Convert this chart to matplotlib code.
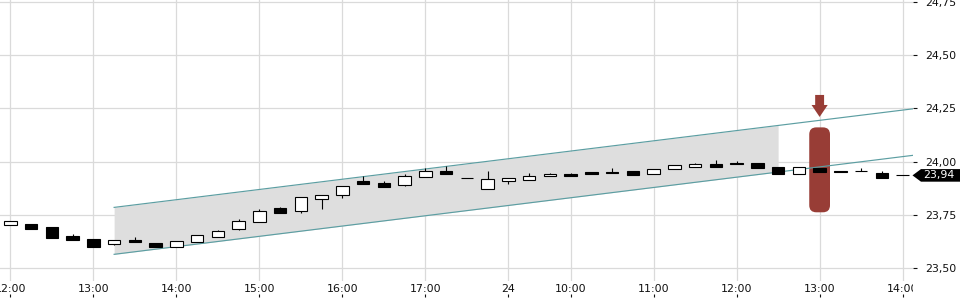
import numpy as np
import matplotlib
matplotlib.use("Agg")
import matplotlib.pyplot as plt
from matplotlib.patches import FancyBboxPatch, FancyArrow, Polygon, Rectangle
from matplotlib.ticker import FuncFormatter

# 15-minute candles, one per slot (overnight gap collapsed)
opens = [23.702, 23.708, 23.692, 23.652, 23.636, 23.613, 23.633, 23.619, 23.601, 23.625,
         23.648, 23.686, 23.719, 23.782, 23.767, 23.827, 23.842, 23.910, 23.900, 23.892,
         23.927, 23.956, 23.922, 23.873, 23.908, 23.913, 23.932, 23.942, 23.952, 23.952,
         23.956, 23.944, 23.967, 23.977, 23.989, 23.995, 23.994, 23.974, 23.944, 23.970,
         23.958, 23.956, 23.946, 23.936]
highs = [23.721, 23.708, 23.692, 23.660, 23.636, 23.632, 23.647, 23.619, 23.627, 23.655,
         23.680, 23.731, 23.778, 23.789, 23.833, 23.842, 23.885, 23.933, 23.910, 23.942,
         23.969, 23.981, 23.922, 23.956, 23.924, 23.946, 23.947, 23.948, 23.952, 23.970,
         23.956, 23.966, 23.983, 23.995, 24.008, 24.002, 23.994, 23.974, 23.974, 23.970,
         23.958, 23.970, 23.956, 23.936]
lows = [23.702, 23.686, 23.644, 23.634, 23.601, 23.608, 23.625, 23.601, 23.601, 23.625,
        23.648, 23.681, 23.719, 23.761, 23.761, 23.780, 23.831, 23.897, 23.883, 23.887,
        23.927, 23.944, 23.922, 23.873, 23.897, 23.913, 23.932, 23.934, 23.944, 23.948,
        23.939, 23.944, 23.967, 23.977, 23.977, 23.991, 23.972, 23.944, 23.944, 23.953,
        23.950, 23.956, 23.925, 23.936]
closes = [23.721, 23.686, 23.644, 23.634, 23.601, 23.632, 23.625, 23.601, 23.627, 23.655,
          23.674, 23.721, 23.767, 23.761, 23.833, 23.842, 23.885, 23.897, 23.883, 23.933,
          23.956, 23.944, 23.922, 23.917, 23.924, 23.933, 23.942, 23.934, 23.944, 23.948,
          23.939, 23.966, 23.983, 23.989, 23.977, 23.991, 23.972, 23.944, 23.974, 23.953,
          23.950, 23.956, 23.925, 23.936]

tick_idx = [0, 4, 8, 12, 16, 20, 24, 27, 31, 35, 39, 43]
tick_labels = ["12:00", "13:00", "14:00", "15:00", "16:00", "17:00", "24",
               "10:00", "11:00", "12:00", "13:00", "14:00"]
y_ticks = [23.50, 23.75, 24.00, 24.25, 24.50, 24.75]

# trend channel (straight lines) and shaded part
chan_x = [5, 43.5]
chan_upper = [23.786, 24.248]
chan_lower = [23.566, 24.030]
shade_end = 37

# highlighted candle
mark_idx = 39
mark_lo, mark_hi = 23.763, 24.161
arrow_top, arrow_tip = 24.313, 24.210

W, H = 960, 300
fig = plt.figure(figsize=(W / 100, H / 100), dpi=100)
ax_w, ax_h = 913, 281
ax = fig.add_axes([0, 1 - ax_h / H, ax_w / W, ax_h / H])
xlim = (-0.5, 43.5)
ylim = (23.441, 24.758)
ax.set_xlim(*xlim)
ax.set_ylim(*ylim)

for s in ax.spines.values():
    s.set_visible(False)

grid_c = "#dadada"
ax.set_xticks(tick_idx)
ax.set_xticklabels(tick_labels)
ax.set_yticks(y_ticks)
ax.yaxis.set_major_formatter(FuncFormatter(lambda v, p: f"{v:.2f}".replace(".", ",")))
ax.yaxis.tick_right()
ax.grid(True, color=grid_c, lw=0.9, zorder=0)
ax.set_axisbelow(True)
ax.tick_params(axis="x", length=0, pad=2, labelsize=7.9, colors="#111111")
ax.tick_params(axis="y", direction="out", length=3, width=0.8, pad=5.5,
               labelsize=7.9, colors="#111111")

# little tick marks under the time labels
sec = ax.secondary_xaxis(-0.046)
sec.set_xticks(tick_idx)
sec.tick_params(length=2.5, width=0.8, labelbottom=False, colors="#111111")
sec.spines["bottom"].set_visible(False)

# channel
cx = np.array([chan_x[0], shade_end])
up_s = np.interp(cx, chan_x, chan_upper)
lo_s = np.interp(cx, chan_x, chan_lower)
ax.fill_between(cx, lo_s, up_s, color="#dedede", lw=0, zorder=1)
ax.plot(chan_x, chan_upper, color="#5c9ea2", lw=0.85, zorder=3)
ax.plot(chan_x, chan_lower, color="#5c9ea2", lw=0.85, zorder=3)

# highlight pill + arrow
red = "#983d36"
px_x = ax_w / (xlim[1] - xlim[0])
px_y = ax_h / (ylim[1] - ylim[0])
pill = FancyBboxPatch((mark_idx - 0.5, mark_lo), 1.0, mark_hi - mark_lo,
                      boxstyle="round,pad=0,rounding_size=0.34",
                      mutation_aspect=px_x / px_y, fc=red, ec="none", zorder=2)
ax.add_patch(pill)
ax.add_patch(FancyArrow(mark_idx, arrow_top, 0, arrow_tip - arrow_top, width=0.43,
                        head_width=0.78, head_length=0.056, length_includes_head=True,
                        fc=red, ec="none", zorder=2))

# candles
x = np.arange(len(closes))
o = np.array(opens); c = np.array(closes)
ax.vlines(x, lows, highs, color="black", lw=0.8, zorder=4)
up = c >= o
face = np.where(up, "white", "black")
ax.bar(x, np.abs(c - o), bottom=np.minimum(o, c), width=0.6, color=face,
       edgecolor="black", lw=0.8, zorder=5)

# last price tag
last = closes[-1]
tr = ax.get_yaxis_transform()
hh = 6.3 / px_y
tag = Polygon([(912.5 / ax_w, last), (921 / ax_w, last + hh), (1.07, last + hh),
               (1.07, last - hh), (921 / ax_w, last - hh)], closed=True,
              transform=tr, fc="black", ec="none", clip_on=False, zorder=6)
ax.add_patch(tag)
ax.text(923 / ax_w, last, f"{last:.2f}".replace(".", ","), transform=tr, color="white",
        fontsize=7.9, va="center", ha="left", zorder=7, clip_on=False)

# clip the last time label at the plot edge
fig.add_artist(Rectangle((ax_w / W, 0), 1 - ax_w / W, 17 / H, transform=fig.transFigure,
                         fc="white", ec="none", zorder=10))

fig.savefig("out.png", dpi=100)
